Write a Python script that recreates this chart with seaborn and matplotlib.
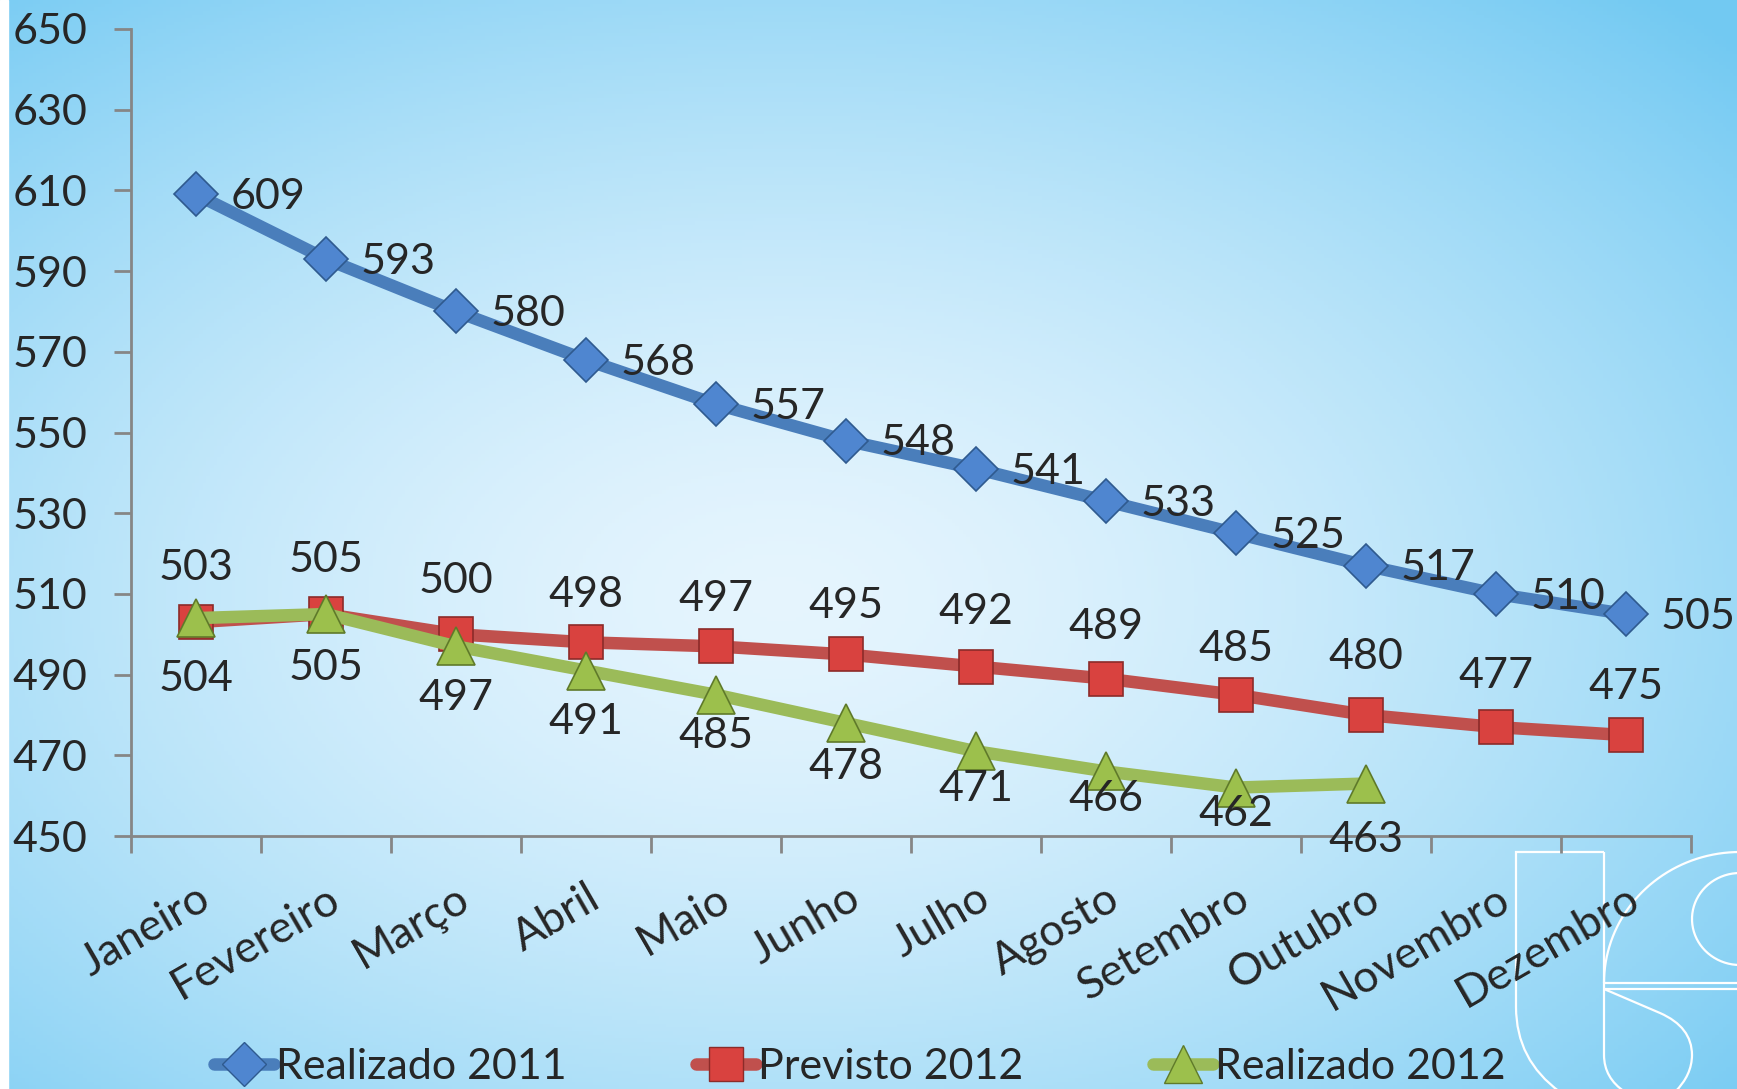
import numpy as np
import pandas as pd
import matplotlib
matplotlib.use("Agg")
import matplotlib.pyplot as plt
from matplotlib.patches import Rectangle, PathPatch
from matplotlib.path import Path
from matplotlib.lines import Line2D
import seaborn as sns

months = ["Janeiro", "Fevereiro", "Março", "Abril", "Maio", "Junho", "Julho",
          "Agosto", "Setembro", "Outubro", "Novembro", "Dezembro"]
realizado_2011 = [609, 593, 580, 568, 557, 548, 541, 533, 525, 517, 510, 505]
previsto_2012 = [503, 505, 500, 498, 497, 495, 492, 489, 485, 480, 477, 475]
realizado_2012 = [504, 505, 497, 491, 485, 478, 471, 466, 462, 463]
y_ticks = [450, 470, 490, 510, 530, 550, 570, 590, 610, 630, 650]

# label offsets (points) as placed in the original
red_off = [39, 39, 38, 34, 34, 35, 39, 37, 33, 42, 37, 35]
green_off = [44, 39, 37, 37, 30, 32, 27, 20, 19, 41]

sns.set_style("white")
plt.rcParams["font.family"] = ["Lato", "DejaVu Sans"]

W, H = 1737, 1089
fig = plt.figure(figsize=(W / 100, H / 100), dpi=100)

# background: radial light-blue gradient, white strip on left
bg = fig.add_axes([0, 0, 1, 1], zorder=-10)
yy, xx = np.mgrid[0:1:300j, 0:1:480j]
r = np.sqrt(((xx - 0.45) / 0.75) ** 2 + ((yy - 0.55) / 0.75) ** 2)
r = np.clip(r, 0, 1)
c_in = np.array([0.90, 0.96, 0.995])
c_out = np.array([0.45, 0.79, 0.95])
k = r[..., None] ** 1.5
img = c_in[None, None, :] * (1 - k) + c_out[None, None, :] * k
bg.imshow(img, extent=[0, W, 0, H], aspect="auto", origin="lower")
bg.add_patch(Rectangle((0, 0), 8, H, color="white"))
bg.set_xlim(0, W)
bg.set_ylim(H, 0)
bg.axis("off")

# logo outline bottom right, in pixel coords
def outline(verts, codes):
    bg.add_patch(PathPatch(Path(verts, codes), fill=False, edgecolor="white", lw=1.6))

M, L, C = Path.MOVETO, Path.LINETO, Path.CURVE3
outline([(1604, 852), (1516, 852), (1516, 1007), (1516, 1060), (1560, 1092)], [M, L, L, C, C])
outline([(1604, 852), (1604, 1055), (1604, 1078), (1625, 1092)], [M, L, C, C])
ang = np.linspace(np.pi, np.pi / 2, 40)
outline(list(zip(1740 + 136 * np.cos(ang), 983 - 131 * np.sin(ang))), [M] + [L] * 39)
outline([(1604, 983), (1737, 983)], [M, L])
outline([(1604, 989), (1737, 989)], [M, L])
ang = np.linspace(np.pi / 2, 1.5 * np.pi, 40)
outline(list(zip(1740 + 48 * np.cos(ang), 919 - 46 * np.sin(ang))), [M] + [L] * 39)
outline([(1604, 989), (1660, 1013), (1692, 1027), (1692, 1055), (1692, 1075), (1675, 1092)],
        [M, L, C, C, C, C])

ax = fig.add_axes([131 / W, 1 - 836 / H, (1691 - 131) / W, (836 - 29) / H])
ax.patch.set_alpha(0)

series = [
    ("Realizado 2011", realizado_2011, "#4a7ebb", "D", "#4f86d0", "#2f5a8f", 22),
    ("Previsto 2012", previsto_2012, "#c0504d", "s", "#d9423f", "#8c2b29", 25),
    ("Realizado 2012", realizado_2012, "#9bbb59", "^", "#9cc04c", "#5f7a2a", 27),
]

for name, vals, col, mk, fc, ec, ms in series:
    df = pd.DataFrame({"mes": months[:len(vals)], "valor": vals})
    sns.lineplot(data=df, x="mes", y="valor", ax=ax, color=col, lw=9, sort=False,
                 marker=mk, markersize=ms, markerfacecolor=fc, markeredgecolor=ec,
                 markeredgewidth=1.2, label=name, legend=False)

fs = 31
for i, v in enumerate(realizado_2011):
    ax.annotate(str(v), (i, v), xytext=(25, -2), textcoords="offset points",
                fontsize=fs, ha="left", va="center")
for i, v in enumerate(previsto_2012):
    ax.annotate(str(v), (i, v), xytext=(0, red_off[i]), textcoords="offset points",
                fontsize=fs, ha="center", va="center")
for i, v in enumerate(realizado_2012):
    ax.annotate(str(v), (i, v), xytext=(0, -green_off[i]), textcoords="offset points",
                fontsize=fs, ha="center", va="center")

ax.set_ylim(450, 650)
ax.set_yticks(y_ticks)
ax.set_xlim(-0.5, 11.5)
ax.set_xticks(range(12))
ax.set_xticklabels(months, rotation=30, ha="right", rotation_mode="anchor", fontsize=32)
ax.set_xticks(np.arange(-0.5, 12, 1), minor=True)
ax.tick_params(axis="x", which="major", bottom=True, length=0, pad=30)
ax.tick_params(axis="x", which="minor", bottom=True, length=12, width=2, color="#868686",
               direction="out")
ax.tick_params(axis="y", which="major", left=True, length=12, width=2, color="#868686",
               direction="out", labelsize=fs, pad=73)
for lab in ax.get_yticklabels():
    lab.set_horizontalalignment("left")
for s in ["top", "right"]:
    ax.spines[s].set_visible(False)
for s in ["left", "bottom"]:
    ax.spines[s].set_color("#868686")
    ax.spines[s].set_linewidth(2)
ax.set_xlabel("")
ax.set_ylabel("")

handles = [Line2D([0], [0], color=col, lw=9, marker=mk, markersize=ms,
                  markerfacecolor=fc, markeredgecolor=ec)
           for name, vals, col, mk, fc, ec, ms in series]
fig.legend(handles, [s[0] for s in series], loc="center", bbox_to_anchor=(0.495, 1 - 1067 / H),
           ncol=3, frameon=False, fontsize=fs, handlelength=1.4, handletextpad=0.05,
           columnspacing=3.0)

fig.savefig("out.png", dpi=100)
